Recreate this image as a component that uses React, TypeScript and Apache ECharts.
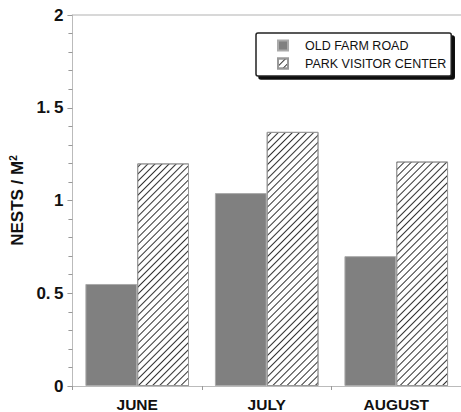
import React, { useEffect, useRef } from "react";
import * as echarts from "echarts";

const months = ["JUNE", "JULY", "AUGUST"];
const oldFarmRoad = [0.55, 1.04, 0.7];
const parkVisitorCenter = [1.2, 1.37, 1.21];
const seriesNames = ["OLD FARM ROAD", "PARK VISITOR CENTER"];

export default function App() {
  const ref = useRef<HTMLDivElement>(null);
  useEffect(() => {
    if (!ref.current) return;
    const chart = echarts.init(ref.current, null, { renderer: "svg" });
    const font = "'Liberation Sans', Arial, Helvetica, sans-serif";
    const hatch = {
      symbol: "rect",
      symbolSize: 1,
      color: "#333",
      dashArrayX: [1, 0],
      dashArrayY: [1, 4],
      rotation: -Math.PI / 4,
    };
    chart.setOption({
      animation: false,
      backgroundColor: "#fff",
      textStyle: { fontFamily: font },
      grid: { left: 71, top: 15, width: 393, bottom: 21, containLabel: false },
      legend: {
        orient: "vertical",
        left: 256,
        top: 33,
        padding: [6, 5, 6, 21],
        itemWidth: 10,
        itemHeight: 10,
        itemGap: 5,
        backgroundColor: "#fff",
        borderColor: "#222",
        borderWidth: 1.5,
        borderRadius: 2,
        shadowColor: "#111",
        shadowOffsetX: 3,
        shadowOffsetY: 3,
        shadowBlur: 0,
        icon: "rect",
        textStyle: { fontFamily: font, fontSize: 12.5, color: "#111", padding: [0, 0, 0, 12] },
        data: seriesNames,
      },
      xAxis: [
        {
          type: "category",
          data: months,
          axisLine: { lineStyle: { color: "#bbb", width: 1 } },
          axisTick: { show: true, length: 4, lineStyle: { color: "#999" } },
          axisLabel: { fontFamily: font, fontWeight: "bold", fontSize: 15.5, color: "#111", margin: 10 },
        },
        {
          type: "category",
          data: months,
          position: "top",
          axisLine: { show: true, lineStyle: { color: "#ccc", width: 1.5 } },
          axisTick: { show: false },
          axisLabel: { show: false },
        },
      ],
      yAxis: {
        type: "value",
        min: 0,
        max: 2,
        interval: 0.5,
        name: "{a|NESTS / M}{b|2}",
        nameLocation: "middle",
        nameGap: 40,
        nameTextStyle: {
          fontFamily: font,
          fontWeight: "bold",
          fontSize: 17,
          color: "#111",
          rich: {
            a: { fontFamily: font, fontWeight: "bold", fontSize: 17, color: "#111" },
            b: { fontFamily: font, fontWeight: "bold", fontSize: 10, color: "#111", verticalAlign: "top", padding: [0, 0, 8, 0] },
          },
        },
        axisLine: { show: true, lineStyle: { color: "#bbb", width: 1 } },
        axisTick: { show: true, length: 5, lineStyle: { color: "#999" } },
        minorTick: { show: true, splitNumber: 5, length: 4, lineStyle: { color: "#999" } },
        splitLine: { show: false },
        axisLabel: {
          fontFamily: font,
          fontWeight: "bold",
          fontSize: 17,
          color: "#111",
          margin: 9,
          formatter: (v: number) => String(v).replace(".", ".\u2009"),
        },
      },
      series: [
        {
          name: seriesNames[0],
          type: "bar",
          data: oldFarmRoad,
          barGap: "0%",
          barCategoryGap: "20%",
          itemStyle: { color: "#808080", borderColor: "#aaa", borderWidth: 1 },
        },
        {
          name: seriesNames[1],
          type: "bar",
          data: parkVisitorCenter,
          barGap: "0%",
          barCategoryGap: "20%",
          itemStyle: { color: "#fff", borderColor: "#999", borderWidth: 1, decal: hatch },
        },
      ],
    });
    return () => chart.dispose();
  }, []);
  return (
    <div
      ref={ref}
      style={{ position: "absolute", left: 0, top: 0, width: 461, height: 412 }}
    />
  );
}
